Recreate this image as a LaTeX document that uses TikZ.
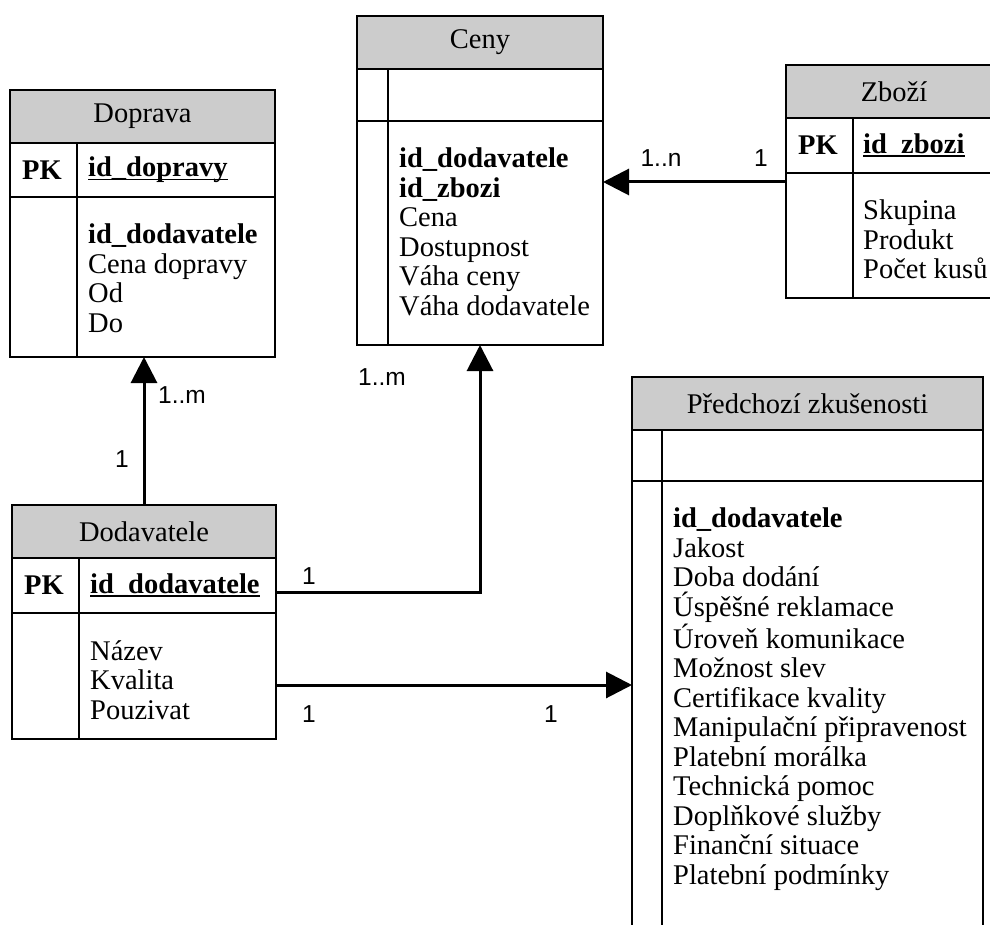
\documentclass[tikz,border=0pt]{standalone}
\usepackage{fontspec}
\setmainfont{Liberation Serif}
\setsansfont{Liberation Sans}
\usetikzlibrary{positioning,arrows.meta}
\definecolor{headgray}{HTML}{CCCCCC}
\newcommand{\tabfont}{\fontsize{28.5}{29.5}\selectfont}
\newcommand{\cardfont}{\sffamily\fontsize{24.5}{26}\selectfont}
\newcommand{\keyline}[1]{\sbox0{#1}\rlap{\usebox0}\rule[-3.5pt]{\wd0}{1.6pt}}
\tikzset{
	cell/.style  = {shape=rectangle, draw, line width=1.6pt,
		outer sep=0pt, inner sep=0pt},
	head/.style  = {cell, fill=headgray, font=\tabfont},
	pk/.style    = {anchor=west, inner sep=0pt, font=\tabfont\bfseries},
	attr/.style  = {anchor=north west, align=left, inner sep=0pt, font=\tabfont},
	card/.style  = {font=\cardfont, inner sep=0pt},
	rel/.style   = {draw, line width=3pt, -{Triangle[length=26pt,width=26pt]}},
	divider/.style = {line width=1.6pt}
}

\begin{document}
\begin{tikzpicture}[x=1pt, y=-1pt]
	\useasboundingbox (0,0) rectangle (990,925);
	\clip (0,0) rectangle (990,925);

	% Doprava
	\node [head, minimum width=265pt, minimum height=53pt, anchor=north west] (dopH) at (10,90) {Doprava};
	\node [cell, minimum width=265pt, minimum height=54pt, below=0pt of dopH] (dopK) {};
	\node [cell, minimum width=265pt, minimum height=160pt, below=0pt of dopK] (dopB) {};
	\draw [divider] ([xshift=67pt]dopK.north west) -- ([xshift=67pt]dopB.south west);
	\node [pk] (dopPK) at ([xshift=12pt]dopK.west) {PK};
	\node [pk] (dopId) at ([xshift=78pt]dopK.west) {\keyline{id\_dopravy}};
	\node [attr] (dopA) at ([xshift=78pt,yshift=-27pt]dopB.north west)
		{\textbf{id\_dodavatele}\\Cena dopravy\\Od\\Do};

	% Ceny
	\node [head, minimum width=246pt, minimum height=53pt, anchor=north west] (cenyH) at (357,16) {Ceny};
	\node [cell, minimum width=246pt, minimum height=52pt, below=0pt of cenyH] (cenyK) {};
	\node [cell, minimum width=246pt, minimum height=224pt, below=0pt of cenyK] (cenyB) {};
	\draw [divider] ([xshift=31pt]cenyK.north west) -- ([xshift=31pt]cenyB.south west);
	\node [attr] (cenyA) at ([xshift=42pt,yshift=-27pt]cenyB.north west)
		{\textbf{id\_dodavatele}\\\textbf{id\_zbozi}\\Cena\\Dostupnost\\Váha ceny\\Váha dodavatele};

	% Zboží
	\node [head, minimum width=216pt, minimum height=53pt, anchor=north west] (zbH) at (786,65) {Zboží};
	\node [cell, minimum width=216pt, minimum height=55pt, below=0pt of zbH] (zbK) {};
	\node [cell, minimum width=216pt, minimum height=125pt, below=0pt of zbK] (zbB) {};
	\draw [divider] ([xshift=67pt]zbK.north west) -- ([xshift=67pt]zbB.south west);
	\node [pk] (zbPK) at ([xshift=12pt]zbK.west) {PK};
	\node [pk] (zbId) at ([xshift=77pt]zbK.west) {\keyline{id\_zbozi}};
	\node [attr] (zbA) at ([xshift=77pt,yshift=-27pt]zbB.north west)
		{Skupina\\Produkt\\Počet kusů};

	% Předchozí zkušenosti
	\node [head, minimum width=351pt, minimum height=53pt, anchor=north west] (predH) at (632,377) {Předchozí zkušenosti};
	\node [cell, minimum width=351pt, minimum height=51pt, below=0pt of predH] (predK) {};
	\node [cell, minimum width=351pt, minimum height=470pt, below=0pt of predK] (predB) {};
	\draw [divider] ([xshift=30pt]predK.north west) -- ([xshift=30pt]predB.south west);
	\node [attr] (predA) at ([xshift=41pt,yshift=-27pt]predB.north west)
		{\textbf{id\_dodavatele}\\Jakost\\Doba dodání\\Úspěšné reklamace\\Úroveň komunikace\\Možnost slev\\Certifikace kvality\\Manipulační připravenost\\Platební morálka\\Technická pomoc\\Doplňkové služby\\Finanční situace\\Platební podmínky};

	% Dodavatele
	\node [head, minimum width=264pt, minimum height=53pt, anchor=north west] (dodH) at (12,505) {Dodavatele};
	\node [cell, minimum width=264pt, minimum height=55pt, below=0pt of dodH] (dodK) {};
	\node [cell, minimum width=264pt, minimum height=126pt, below=0pt of dodK] (dodB) {};
	\draw [divider] ([xshift=67pt]dodK.north west) -- ([xshift=67pt]dodB.south west);
	\node [pk] (dodPK) at ([xshift=12pt]dodK.west) {PK};
	\node [pk] (dodId) at ([xshift=78pt]dodK.west) {\keyline{id\_dodavatele}};
	\node [attr] (dodA) at ([xshift=78pt,yshift=-27pt]dodB.north west)
		{Název\\Kvalita\\Pouzivat};

	% vazby
	\coordinate (dodKOut) at ([yshift=-6.5pt]dodK.east);
	\coordinate (dodBOut) at ([yshift=-9pt]dodB.east);
	\coordinate (zbOut) at ([yshift=-9pt]zbB.north west);
	\draw [rel] (dodH.north) -- (dodH.north |- dopB.south);
	\draw [rel] (dodKOut) -| (cenyB.south);
	\draw [rel] (dodBOut) -- (dodBOut -| predB.west);
	\draw [rel] (zbOut) -- (zbOut -| cenyB.east);

	% kardinality
	\node [card] (c1) at (122,459) {1};
	\node [card] (c2) at (182,395) {1..m};
	\node [card] (c3) at (309,576) {1};
	\node [card] (c4) at (382,377) {1..m};
	\node [card] (c5) at (309,714) {1};
	\node [card] (c6) at (551,714) {1};
	\node [card] (c7) at (661,158) {1..n};
	\node [card] (c8) at (761,158) {1};
\end{tikzpicture}
\end{document}
